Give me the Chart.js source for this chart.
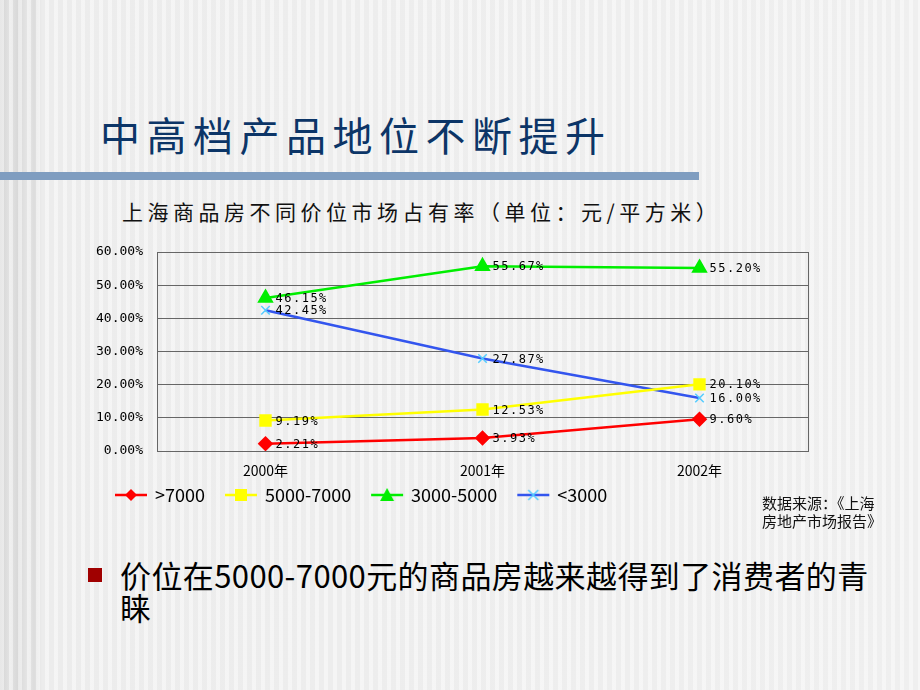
<!DOCTYPE html>
<html>
<head>
<meta charset="utf-8">
<script src="https://cdn.jsdelivr.net/npm/chart.js@4"></script>
<style>
  html, body { margin: 0; padding: 0; }
  body {
    width: 920px; height: 690px; position: relative; overflow: hidden;
    font-family: "Noto Sans CJK SC", "Noto Sans", sans-serif;
    background:
      repeating-linear-gradient(90deg, rgba(255,255,255,0.45) 0 4px, rgba(255,255,255,0) 4px 9px),
      linear-gradient(90deg, #d4d4d4 0px, #e3e3e3 10px, #d8d8d8 18px, #e6e6e6 28px, #dcdcdc 34px, #ececec 42px, #efefef 100%);
  }
  .title { position: absolute; left: 100px; top: 114px; font-size: 40px; line-height: 1; color: #0c3567; letter-spacing: 6.5px; }
  .bar { position: absolute; left: 0; top: 172px; width: 699px; height: 8px; background: #7f9dc0; }
  .sub { position: absolute; left: 122px; top: 199px; font-size: 21px; line-height: 1.2; color: #111; letter-spacing: 4.5px; }
  .src { position: absolute; left: 762px; top: 494px; font-size: 15px; line-height: 18px; color: #111; }
  .bullet { position: absolute; left: 88px; top: 568px; width: 14px; height: 14px; background: #a00000; }
  .note { position: absolute; left: 120px; top: 559px; width: 760px; font-size: 31px; line-height: 32px; color: #000; letter-spacing: 0.4px; }
  #wrap { position: absolute; left: 0; top: 0; width: 920px; height: 514px; }
</style>
</head>
<body>
<div class="title">中高档产品地位不断提升</div>
<div class="bar"></div>
<div class="sub">上海商品房不同价位市场占有率（单位：元/平方米）</div>
<div id="wrap"><canvas id="myChart"></canvas></div>
<div class="src">数据来源：《上海<br>房地产市场报告》</div>
<div class="bullet"></div>
<div class="note">价位在5000-7000元的商品房越来越得到了消费者的青睐</div>

<script>
// 图表数据
const years = ['2000年', '2001年', '2002年'];
const seriesNames = ['>7000', '5000-7000', '3000-5000', '<3000'];
const above7000 = [2.21, 3.93, 9.60];
const from5000to7000 = [9.19, 12.53, 20.10];
const from3000to5000 = [46.15, 55.67, 55.20];
const below3000 = [42.45, 27.87, 16.00];
const yTickLabels = ['0.00%', '10.00%', '20.00%', '30.00%', '40.00%', '50.00%', '60.00%'];

// 图例用的小图：线段 + 标记（左边留空，当作图例项之间的间距）
function legendIcon(lineColor, markColor, style) {
    const c = document.createElement('canvas');
    c.width = 48; c.height = 16;
    const g = c.getContext('2d');
    g.strokeStyle = lineColor;
    g.lineWidth = 2.5;
    g.beginPath(); g.moveTo(15, 8); g.lineTo(47, 8); g.stroke();
    g.fillStyle = markColor;
    g.strokeStyle = markColor;
    const m = 31;
    if (style === 'diamond') {
        g.beginPath(); g.moveTo(m, 2); g.lineTo(m + 6, 8); g.lineTo(m, 14); g.lineTo(m - 6, 8); g.closePath(); g.fill();
    } else if (style === 'square') {
        g.fillRect(m - 6, 2, 12, 12);
    } else if (style === 'triangle') {
        g.beginPath(); g.moveTo(m, 1); g.lineTo(m + 7, 14); g.lineTo(m - 7, 14); g.closePath(); g.fill();
    } else {
        g.lineWidth = 1.5;
        g.beginPath(); g.moveTo(m - 5, 3); g.lineTo(m + 5, 13); g.moveTo(m + 5, 3); g.lineTo(m - 5, 13); g.stroke();
    }
    return c;
}

const icons = [
    legendIcon('#ff0000', '#ff0000', 'diamond'),
    legendIcon('#ffff00', '#ffff00', 'square'),
    legendIcon('#00ee00', '#00ee00', 'triangle'),
    legendIcon('#3355ee', '#55ccff', 'cross')
];

// 数据标签
const valueLabels = {
    id: 'valueLabels',
    afterDatasetsDraw(chart) {
        const ctx = chart.ctx;
        ctx.save();
        ctx.font = '12px "DejaVu Sans Mono", monospace';
        ctx.letterSpacing = '1.5px';
        ctx.fillStyle = '#000';
        ctx.textBaseline = 'middle';
        ctx.textAlign = 'left';
        chart.data.datasets.forEach((ds, i) => {
            chart.getDatasetMeta(i).data.forEach((pt, j) => {
                ctx.fillText(ds.data[j].toFixed(2) + '%', pt.x + 10, pt.y + 1);
            });
        });
        ctx.restore();
    }
};

// 绘图区边框
const areaBorder = {
    id: 'areaBorder',
    beforeDatasetsDraw(chart) {
        const a = chart.chartArea, ctx = chart.ctx;
        ctx.save();
        ctx.strokeStyle = '#666';
        ctx.lineWidth = 1;
        ctx.strokeRect(a.left + 0.5, a.top + 0.5, a.right - a.left, a.bottom - a.top);
        ctx.restore();
    }
};

const ctx = document.getElementById('myChart').getContext('2d');
new Chart(ctx, {
    type: 'line',
    data: {
        labels: years,
        datasets: [
            { label: seriesNames[0], data: above7000, borderColor: '#ff0000', backgroundColor: '#ff0000',
              pointStyle: 'rectRot', pointRadius: 6, borderWidth: 2.5 },
            { label: seriesNames[1], data: from5000to7000, borderColor: '#ffff00', backgroundColor: '#ffff00',
              pointStyle: 'rect', pointRadius: 7, borderWidth: 2.5 },
            { label: seriesNames[2], data: from3000to5000, borderColor: '#00ee00', backgroundColor: '#00ee00',
              pointStyle: 'triangle', pointRadius: 7, borderWidth: 2.5 },
            { label: seriesNames[3], data: below3000, borderColor: '#3355ee', backgroundColor: '#55ccff',
              pointStyle: 'crossRot', pointRadius: 6, pointBorderColor: '#55ccff', pointBorderWidth: 1.5, borderWidth: 2.5 }
        ]
    },
    options: {
        responsive: true,
        maintainAspectRatio: false,
        animation: false,
        layout: { padding: { left: 95, right: 112, top: 252, bottom: 0 } },
        plugins: {
            legend: {
                position: 'bottom',
                align: 'start',
                labels: {
                    usePointStyle: true,
                    pointStyleWidth: 44,
                    padding: 7,
                    color: '#000',
                    font: { family: '"Noto Sans CJK SC", sans-serif', size: 18 },
                    generateLabels(chart) {
                        return chart.data.datasets.map((ds, i) => ({
                            text: ds.label, pointStyle: icons[i], datasetIndex: i,
                            fillStyle: ds.borderColor, strokeStyle: ds.borderColor, lineWidth: 0, hidden: false
                        }));
                    }
                }
            },
            tooltip: { enabled: false }
        },
        scales: {
            x: {
                offset: true,
                grid: { display: false, drawTicks: false },
                border: { display: true, color: '#333', width: 1 },
                ticks: { color: '#000', padding: 11, font: { family: '"Noto Sans CJK SC", sans-serif', size: 14 } },
                afterFit(scale) { scale.height = 28; }
            },
            y: {
                min: 0, max: 60,
                grid: { color: '#666', lineWidth: 1, drawTicks: false },
                border: { display: true, color: '#333', width: 1 },
                ticks: {
                    stepSize: 10, padding: 14, color: '#000',
                    font: { family: '"DejaVu Sans Mono", monospace', size: 13 },
                    callback: (v, i) => yTickLabels[i]
                },
                afterFit(scale) { scale.width = 62; }
            }
        }
    },
    plugins: [valueLabels, areaBorder]
});
</script>
</body>
</html>
